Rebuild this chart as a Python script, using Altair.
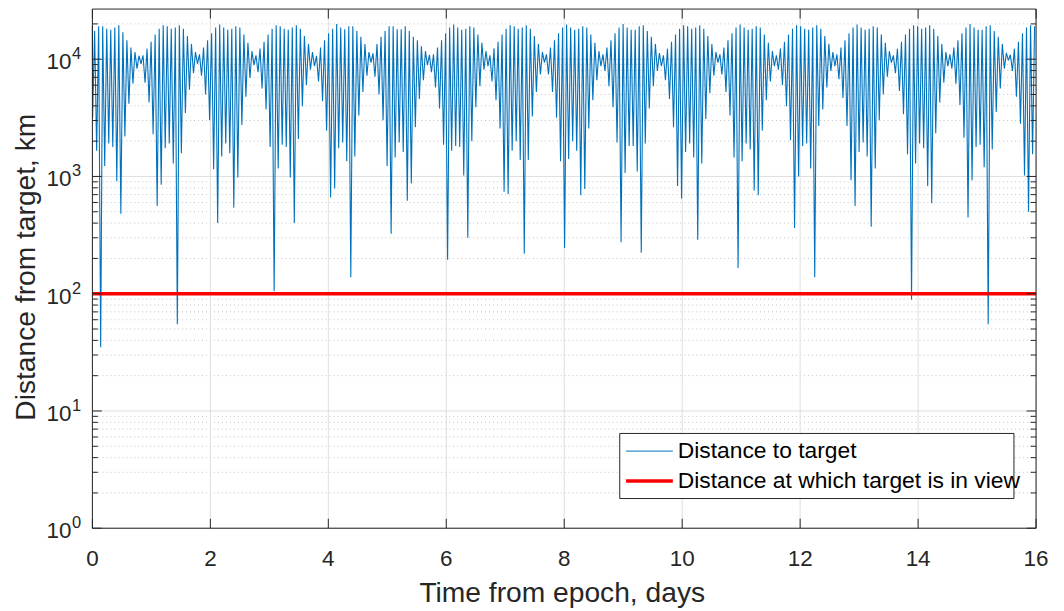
import altair as alt
import pandas as pd

# ---------------- data ----------------
orbit_period_days = 0.0684      # spacing of successive close approaches
first_dip_day = 0.0034
start_km = 19000

dip_km = [
    3160, 1660, 35, 1230, 1910, 1780, 910, 480, 2190, 4170, 6170, 8320,
    9120, 6310, 4270, 2290, 560, 850, 1740, 1910, 1290, 55, 1580, 3470, 5500, 7590,
    9120, 7240, 5010, 3020, 1150, 400, 1480, 1910, 1580, 540, 980, 2750, 4790, 6920,
    8910, 7760, 5620, 3720, 1780, 105, 1170, 1860, 1780, 980, 400, 2090, 3980, 6030, 8130,
    8710, 6460, 4370, 2450, 660, 790, 1740, 1950, 1350, 138, 1480, 3310, 5250, 7240,
    9330, 7080, 5010, 3020, 1230, 324, 1450, 1950, 1620, 620, 870, 2630, 4570, 6610, 8910,
    7760, 5750, 3800, 1860, 195, 1660, 1820, 1780, 1020, 300, 2000, 3890, 5890, 8130,
    8710, 6460, 4470, 2570, 740, 710, 1660, 2000, 1380, 219, 1380, 3240, 5250, 7410,
    9330, 7410, 5250, 3160, 1350, 245, 1410, 2000, 1660, 690, 780, 2570, 4470, 6610,
    8710, 7940, 5890, 3890, 1950, 275, 1070, 1820, 1820, 1100, 224, 1910, 3800, 5890, 7940,
    8710, 6610, 4570, 2630, 830, 650, 1620, 1910, 1450, 288, 1290, 3090, 5130, 7240,
    9330, 7410, 5250, 3310, 1450, 166, 1350, 1910, 1700, 760, 690, 2450, 4470, 6460,
    8710, 8130, 6030, 3980, 2040, 363, 1000, 1820, 1910, 1170, 138, 2690, 3720, 5750, 7940,
    8710, 6760, 4680, 2690, 930, 560, 1620, 1950, 1480, 372, 1170, 3020, 5010, 7080,
    9330, 7590, 5370, 3390, 1550, 89, 1290, 1910, 1740, 830, 590, 2340, 4270, 6310,
    8710, 8320, 6170, 4070, 2140, 447, 930, 1780, 1860, 1200, 55, 1700, 3550, 5620, 8320,
    9770, 7940, 4790, 2820, 1020, 500, 1550,
]

peak_km = [
    17400, 19100, 19100, 18200, 17800, 18600, 19500, 17000, 14500, 12600, 11500, 10700,
    10800, 12300, 14100, 16200, 18200, 19500, 19100, 18200, 18600, 19500, 18200, 15800, 13500, 11500,
    11000, 12600, 14500, 16600, 18600, 19800, 18600, 17800, 18200, 19100, 18600, 16200, 13800, 11700,
    10800, 12300, 14100, 16200, 18200, 19500, 19100, 18200, 17800, 18600, 19500, 18200, 15800, 13500, 11500,
    10700, 12600, 14500, 16600, 18200, 20000, 18600, 18000, 19100, 19100, 17400, 15500, 13500, 11500,
    11200, 13500, 15500, 17400, 19100, 19100, 18000, 18000, 19100, 17400, 15500, 14500, 12900, 11700, 10900,
    11000, 12600, 14500, 16600, 18600, 19800, 18600, 17800, 18200, 19100, 18600, 16200, 13800, 11700,
    10800, 12400, 14100, 16200, 18200, 19500, 19100, 18200, 18600, 19500, 18200, 15800, 13500, 11500,
    11000, 12600, 14500, 16600, 18600, 19800, 18600, 17800, 18200, 19100, 18600, 16200, 13800, 11700,
    11000, 12600, 14500, 16600, 18600, 20000, 18600, 17800, 17800, 19100, 19500, 17400, 15500, 13500, 11300,
    10800, 12300, 14100, 16200, 18200, 19500, 19100, 18200, 18600, 19500, 18200, 15800, 13500, 11500,
    11000, 12600, 14500, 16600, 18600, 19800, 18600, 17800, 18200, 19100, 18600, 16200, 13800, 11700,
    10800, 12300, 14100, 16200, 18200, 19500, 19100, 18200, 17800, 18600, 19500, 18200, 15800, 13500, 11500,
    11000, 12600, 14500, 16600, 18600, 19800, 18600, 17800, 18200, 19100, 18600, 16200, 13800, 11700,
    10800, 12300, 14100, 16200, 18200, 19500, 19100, 18200, 18600, 19500, 18200, 15800, 13500, 11500,
    11000, 12600, 14500, 16600, 18600, 20000, 18600, 17800, 17800, 19100, 19500, 17400, 15500, 13500, 11300,
    10900, 12300, 14100, 16600, 18600, 19500, 19100,
]

threshold_km = 100
x_ticks = [0, 2, 4, 6, 8, 10, 12, 14, 16]
y_decades = [1, 10, 100, 1000, 10000]
y_exponents = ["0", "1", "2", "3", "4"]
y_minor = [2, 3, 4, 5, 6, 7, 8, 9,
           20, 30, 40, 50, 60, 70, 80, 90,
           200, 300, 400, 500, 600, 700, 800, 900,
           2000, 3000, 4000, 5000, 6000, 7000, 8000, 9000,
           20000]
legend_labels = ["Distance to target", "Distance at which target is in view"]

# ---------------- build tables ----------------
n = min(len(dip_km), len(peak_km))
ts, vs = [0.0], [start_km]
for k in range(n):
    td = first_dip_day + k * orbit_period_days
    ts += [td, td + orbit_period_days / 2]
    vs += [dip_km[k], peak_km[k]]
line_df = pd.DataFrame({"t": ts, "km": vs, "i": range(len(ts))})

W, H = 947, 521
FONT = "Liberation Sans"
AX = "#262626"
xs = alt.Scale(domain=[0, 16], nice=False, zero=False)
ys = alt.Scale(type="log", domain=[1, 26760], nice=False)

xt_df = pd.DataFrame({"t": x_ticks, "lab": [str(v) for v in x_ticks]})
yd_df = pd.DataFrame({"v": y_decades, "base": ["10"] * len(y_decades), "ex": y_exponents})
ym_df = pd.DataFrame({"v": y_minor})
thr_df = pd.DataFrame({"v": [threshold_km]})
one = pd.DataFrame({"a": [0]})

X = lambda f: alt.X(f, type="quantitative", scale=xs, axis=None)
Y = lambda f: alt.Y(f, type="quantitative", scale=ys, axis=None)

minor_grid = alt.Chart(ym_df).mark_rule(color="#c4c4c4", strokeDash=[1, 3], strokeWidth=1).encode(y=Y("v"))
major_ygrid = alt.Chart(yd_df).mark_rule(color="#dedede", strokeWidth=1).encode(y=Y("v"))
major_xgrid = alt.Chart(xt_df).mark_rule(color="#dedede", strokeWidth=1).encode(x=X("t"))

series = alt.Chart(line_df).mark_line(color="#0072BD", strokeWidth=1.1, strokeJoin="bevel").encode(
    x=X("t"), y=Y("km"), order="i:Q")
thr = alt.Chart(thr_df).mark_rule(color="#FF0000", strokeWidth=3.5).encode(y=Y("v"))

TL, TM = 9.5, 5.5
yt_l = alt.Chart(yd_df).mark_rule(color=AX).encode(y=Y("v"), x=alt.value(0), x2=alt.value(TL))
yt_r = alt.Chart(yd_df).mark_rule(color=AX).encode(y=Y("v"), x=alt.value(W - TL), x2=alt.value(W))
ym_l = alt.Chart(ym_df).mark_rule(color=AX).encode(y=Y("v"), x=alt.value(0), x2=alt.value(TM))
ym_r = alt.Chart(ym_df).mark_rule(color=AX).encode(y=Y("v"), x=alt.value(W - TM), x2=alt.value(W))
xt_b = alt.Chart(xt_df).mark_rule(color=AX).encode(x=X("t"), y=alt.value(H - TL), y2=alt.value(H))
xt_t = alt.Chart(xt_df).mark_rule(color=AX).encode(x=X("t"), y=alt.value(0), y2=alt.value(TL))
frame = alt.Chart(one).mark_rect(fillOpacity=0, stroke=AX, strokeWidth=1).encode(
    x=alt.value(0), x2=alt.value(W), y=alt.value(0), y2=alt.value(H))

xlab = alt.Chart(xt_df).mark_text(font=FONT, fontSize=22.5, color=AX, align="center", baseline="alphabetic").encode(
    x=X("t"), y=alt.value(H + 38), text="lab:N")
ylab = alt.Chart(yd_df).mark_text(font=FONT, fontSize=22.5, color=AX, align="right", baseline="alphabetic", dy=10).encode(
    x=alt.value(-21), y=Y("v"), text="base:N")
yexp = alt.Chart(yd_df).mark_text(font=FONT, fontSize=16.5, color=AX, align="left", baseline="alphabetic", dy=0).encode(
    x=alt.value(-20.5), y=Y("v"), text="ex:N")

xtitle = alt.Chart(one).mark_text(text="Time from epoch, days", font=FONT, fontSize=28.3, color=AX,
                                  align="center", baseline="alphabetic").encode(
    x=alt.value(W / 2 - 2), y=alt.value(H + 74.3))
ytitle = alt.Chart(one).mark_text(text="Distance from target, km", font=FONT, fontSize=28.3, color=AX,
                                  align="center", baseline="alphabetic", angle=270).encode(
    x=alt.value(-58), y=alt.value(259))

# legend box
LX0, LX1 = W - 22.2 - 395.6, W - 22.2
LY0, LY1 = H - 29.8 - 65.3, H - 29.8
leg_box = alt.Chart(one).mark_rect(fill="white", stroke=AX, strokeWidth=1).encode(
    x=alt.value(LX0), x2=alt.value(LX1), y=alt.value(LY0), y2=alt.value(LY1))
leg_blue = alt.Chart(one).mark_rule(color="#0072BD", strokeWidth=1).encode(
    x=alt.value(LX0 + 6.3), x2=alt.value(LX0 + 53.3), y=alt.value(LY0 + 17.7))
leg_red = alt.Chart(one).mark_rule(color="#FF0000", strokeWidth=3.5).encode(
    x=alt.value(LX0 + 6.3), x2=alt.value(LX0 + 53.3), y=alt.value(LY0 + 47.7))
leg_t1 = alt.Chart(one).mark_text(text=legend_labels[0], font=FONT, fontSize=22.9, color="black",
                                  align="left", baseline="middle").encode(
    x=alt.value(LX0 + 58.3), y=alt.value(LY0 + 17.7))
leg_t2 = alt.Chart(one).mark_text(text=legend_labels[1], font=FONT, fontSize=22.9, color="black",
                                  align="left", baseline="middle").encode(
    x=alt.value(LX0 + 58.3), y=alt.value(LY0 + 47.7))

chart = alt.layer(
    minor_grid, major_ygrid, major_xgrid, series, thr,
    yt_l, yt_r, ym_l, ym_r, xt_b, xt_t, frame,
    xlab, ylab, yexp, xtitle, ytitle,
    leg_box, leg_blue, leg_red, leg_t1, leg_t2,
).properties(
    width=W, height=H,
    autosize=alt.AutoSizeParams(type="none"),
    padding={"left": 84.7, "top": 0, "right": 20, "bottom": 85},
).configure(background="white").configure_view(stroke=None)

chart.save("out.html", embed_options={"renderer": "svg", "actions": False})
